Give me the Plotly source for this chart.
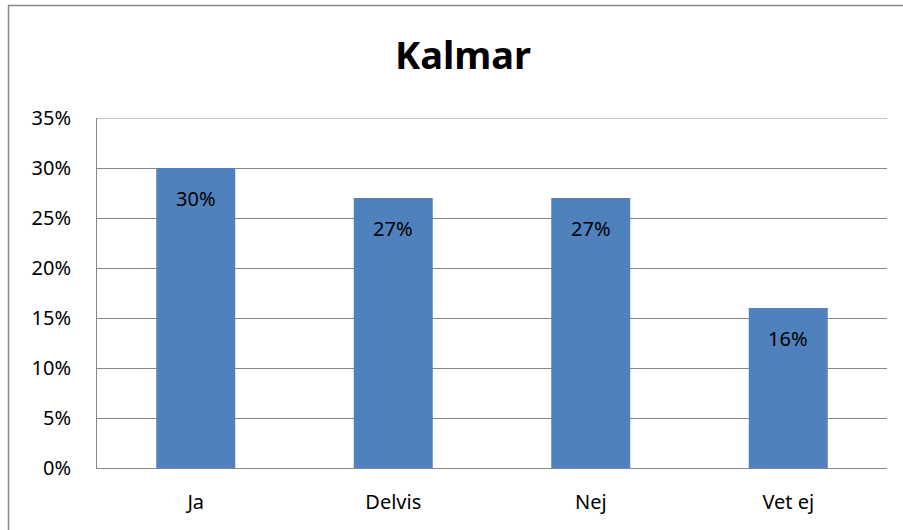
import plotly.graph_objects as go

categories = ["Ja", "Delvis", "Nej", "Vet ej"]
values = [0.30, 0.27, 0.27, 0.16]
labels = ["30%", "27%", "27%", "16%"]
tick_vals = [0, 0.05, 0.10, 0.15, 0.20, 0.25, 0.30, 0.35]
tick_text = ["0%", "5%", "10%", "15%", "20%", "25%", "30%", "35%"]
title_text = "Kalmar"

W, H = 903, 530
L, R, T, B = 97, 16, 118, 62
FONT = "Noto Sans"
GRID = "#878787"
FS = 20

fig = go.Figure()
fig.add_trace(go.Bar(
    x=categories, y=values,
    marker=dict(color="#4F81BD", line=dict(width=0)),
    hoverinfo="skip",
))

for c, v, t in zip(categories, values, labels):
    fig.add_annotation(x=c, y=v, text=t, showarrow=False, yanchor="middle",
                       yshift=-30, font=dict(family=FONT, size=FS, color="#000"))

pw = W - L - R
ph = H - T - B
fig.add_shape(type="line", xref="paper", yref="paper",
              x0=(8 - L) / pw, x1=(W + 5 - L) / pw,
              y0=(H - B - 5.5) / ph, y1=(H - B - 5.5) / ph,
              line=dict(color="#888888", width=1.5))
fig.add_shape(type="line", xref="paper", yref="paper",
              x0=(8.5 - L) / pw, x1=(8.5 - L) / pw,
              y0=(H - B - 5.5) / ph, y1=(H - B - H - 5) / ph,
              line=dict(color="#888888", width=1.5))
# top gridline at the axis maximum
fig.add_shape(type="line", xref="paper", yref="y",
              x0=0, x1=1, y0=tick_vals[-1], y1=tick_vals[-1],
              line=dict(color=GRID, width=1))

fig.update_layout(
    width=W, height=H,
    margin=dict(l=L, r=R, t=T, b=B, pad=0),
    paper_bgcolor="white", plot_bgcolor="white",
    bargap=0.6,
    showlegend=False,
    font=dict(family=FONT, size=FS, color="#000"),
    title=dict(text="<b>" + title_text + "</b>", x=463 / W, xanchor="center",
               xref="container", yref="container", y=1 - 56 / H, yanchor="middle",
               font=dict(family=FONT, size=38, color="#000")),
    xaxis=dict(showline=True, linecolor=GRID, linewidth=1, showgrid=False,
               ticks="", tickfont=dict(size=FS), ticklabelstandoff=16),
    yaxis=dict(range=[0, 0.35], tickvals=tick_vals, ticktext=tick_text,
               showline=True, linecolor=GRID, linewidth=1,
               showgrid=True, gridcolor=GRID, gridwidth=1,
               zeroline=False, ticks="", tickfont=dict(size=FS),
               ticklabelstandoff=21),
)

fig.write_html("out.html", config={"displayModeBar": False},
               post_script="document.body.style.margin='0';document.body.style.overflow='hidden';")
